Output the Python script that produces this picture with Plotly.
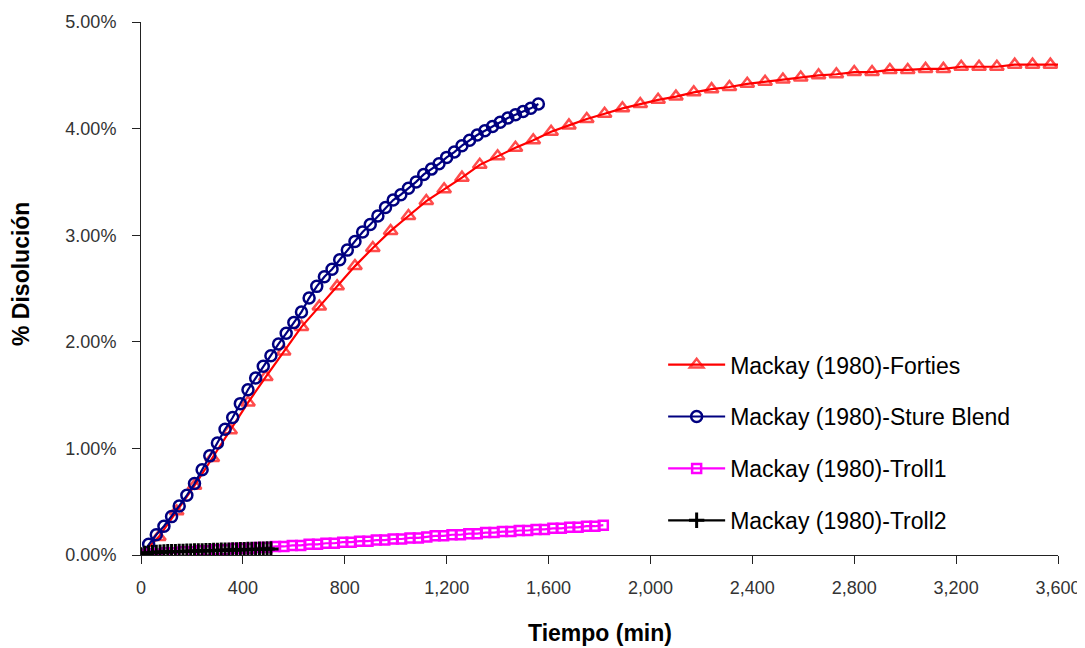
import plotly.graph_objects as go

# ---- data (minutes, % dissolution) ----
forties_t = [0, 70, 140, 210, 280, 350, 420, 490, 560, 630, 700, 770, 840, 910, 980,
             1050, 1120, 1190, 1260, 1330, 1400, 1470, 1540, 1610, 1680, 1750, 1820,
             1890, 1960, 2030, 2100, 2170, 2240, 2310, 2380, 2450, 2520, 2590, 2660,
             2730, 2800, 2870, 2940, 3010, 3080, 3150, 3220, 3290, 3360, 3430, 3500,
             3570, 3600]
forties_y = [0.00, 0.17, 0.41, 0.65, 0.91, 1.17, 1.43, 1.67, 1.91, 2.14, 2.33, 2.52,
             2.71, 2.88, 3.04, 3.18, 3.32, 3.43, 3.54, 3.66, 3.74, 3.82, 3.89, 3.97,
             4.03, 4.09, 4.14, 4.19, 4.23, 4.27, 4.30, 4.34, 4.37, 4.39, 4.42, 4.44,
             4.46, 4.48, 4.50, 4.51, 4.53, 4.53, 4.55, 4.55, 4.56, 4.56, 4.58, 4.58,
             4.58, 4.60, 4.60, 4.60, 4.60]

sture_t = [0, 30, 60, 90, 120, 150, 180, 210, 240, 270, 300, 330, 360, 390, 420, 450,
           480, 510, 540, 570, 600, 630, 660, 690, 720, 750, 780, 810, 840, 870, 900,
           930, 960, 990, 1020, 1050, 1080, 1110, 1140, 1170, 1200, 1230, 1260, 1290,
           1320, 1350, 1380, 1410, 1440, 1470, 1500, 1530, 1560]
sture_y = [0.00, 0.10, 0.19, 0.27, 0.36, 0.46, 0.56, 0.67, 0.80, 0.93, 1.05, 1.18,
           1.29, 1.42, 1.55, 1.66, 1.77, 1.87, 1.98, 2.08, 2.18, 2.28, 2.41, 2.52,
           2.61, 2.68, 2.77, 2.86, 2.94, 3.03, 3.10, 3.18, 3.26, 3.33, 3.38, 3.44,
           3.50, 3.57, 3.62, 3.67, 3.73, 3.78, 3.84, 3.89, 3.94, 3.98, 4.02, 4.06,
           4.10, 4.13, 4.16, 4.19, 4.23]

troll1_t = [0, 33, 66, 99, 132, 165, 198, 231, 264, 297, 330, 363, 396, 429, 462, 495,
            528, 561, 594, 627, 660, 693, 726, 759, 792, 825, 858, 891, 924, 957, 990,
            1023, 1056, 1089, 1122, 1155, 1188, 1221, 1254, 1287, 1320, 1353, 1386,
            1419, 1452, 1485, 1518, 1551, 1584, 1617, 1650, 1683, 1716, 1749, 1782, 1815]
troll1_y = [0.00, 0.01, 0.01, 0.02, 0.02, 0.03, 0.03, 0.04, 0.04, 0.05, 0.05, 0.06,
            0.06, 0.06, 0.07, 0.07, 0.08, 0.08, 0.09, 0.09, 0.10, 0.10, 0.11, 0.11,
            0.12, 0.12, 0.13, 0.13, 0.14, 0.14, 0.15, 0.15, 0.16, 0.16, 0.17, 0.18,
            0.18, 0.19, 0.19, 0.20, 0.20, 0.21, 0.21, 0.22, 0.22, 0.23, 0.23, 0.24,
            0.24, 0.25, 0.25, 0.26, 0.26, 0.27, 0.27, 0.28]

troll2_t = [0, 15, 30, 45, 60, 75, 90, 105, 120, 135, 150, 165, 180, 195, 210, 225, 240,
            255, 270, 285, 300, 315, 330, 345, 360, 375, 390, 405, 420, 435, 450, 465,
            480, 495, 510]
troll2_y = [0.000, 0.015, 0.020, 0.022, 0.025, 0.027, 0.028, 0.030, 0.031, 0.032,
            0.033, 0.034, 0.035, 0.036, 0.037, 0.038, 0.039, 0.040, 0.041, 0.042,
            0.043, 0.044, 0.045, 0.046, 0.047, 0.048, 0.049, 0.050, 0.051, 0.052,
            0.053, 0.054, 0.055, 0.056, 0.057]

series_names = ["Mackay (1980)-Forties", "Mackay (1980)-Sture Blend",
                "Mackay (1980)-Troll1", "Mackay (1980)-Troll2"]

x_ticks = [0, 400, 800, 1200, 1600, 2000, 2400, 2800, 3200, 3600]
x_labels = ["0", "400", "800", "1,200", "1,600", "2,000", "2,400", "2,800", "3,200", "3,600"]
y_ticks = [0, 1, 2, 3, 4, 5]
y_labels = ["0.00%", "1.00%", "2.00%", "3.00%", "4.00%", "5.00%"]

FONT = "Liberation Sans, Arial, sans-serif"

fig = go.Figure()

# Forties: last point is line-only (no marker)
f_sizes = [12] * (len(forties_t) - 1) + [0]
fig.add_trace(go.Scatter(
    x=forties_t, y=forties_y, name=series_names[0], mode="lines+markers",
    line=dict(color="#FF0000", width=2.2),
    marker=dict(symbol="triangle-up-open", size=f_sizes, color="#FF0000",
                line=dict(width=2.5, color="#FF0000")),
    legendgroup="a"))
fig.add_trace(go.Scatter(
    x=sture_t, y=sture_y, name=series_names[1], mode="lines+markers",
    line=dict(color="#000080", width=2.2),
    marker=dict(symbol="circle-open", size=11, color="#000080",
                line=dict(width=2.5, color="#000080")),
    legendgroup="b"))
fig.add_trace(go.Scatter(
    x=troll1_t, y=troll1_y, name=series_names[2], mode="lines+markers",
    line=dict(color="#FF00FF", width=2.2),
    marker=dict(symbol="square-open", size=9, color="#FF00FF",
                line=dict(width=2.5, color="#FF00FF")),
    legendgroup="c"))
fig.add_trace(go.Scatter(
    x=troll2_t, y=troll2_y, name=series_names[3], mode="lines+markers",
    line=dict(color="#000000", width=2.2),
    marker=dict(symbol="cross-thin", size=11, color="#000000",
                line=dict(width=3, color="#000000")),
    legendgroup="d"))

# page body adds an 8px offset, so the figure is sized to fit the window
fig.update_layout(
    width=1077, height=640,
    margin=dict(l=133, r=27, t=14, b=93, autoexpand=False),
    paper_bgcolor="white", plot_bgcolor="white",
    font=dict(family=FONT, color="#333333"),
    showlegend=True,
    legend=dict(x=0.5694, y=0.3975, xanchor="left", yanchor="top",
                font=dict(family=FONT, size=23, color="#000000"),
                bgcolor="rgba(0,0,0,0)", tracegroupgap=19, itemwidth=57),
    xaxis=dict(range=[0, 3600], tickmode="array", tickvals=x_ticks, ticktext=x_labels,
               automargin=False,
               showline=True, linecolor="#222222", linewidth=1,
               ticks="outside", ticklen=8, tickcolor="#222222",
               showgrid=False, zeroline=False,
               tickfont=dict(family=FONT, size=18, color="#333333"),
               ticklabelstandoff=8),
    yaxis=dict(range=[0, 5], tickmode="array", tickvals=y_ticks, ticktext=y_labels,
               automargin=False,
               showline=True, linecolor="#222222", linewidth=1,
               ticks="outside", ticklen=8, tickcolor="#222222",
               showgrid=False, zeroline=False,
               tickfont=dict(family=FONT, size=18, color="#333333"),
               ticklabelstandoff=12),
    annotations=[
        dict(text="<b>% Disolución</b>", textangle=-90,
             xref="paper", yref="paper", x=-0.131, y=0.527,
             xanchor="center", yanchor="middle", showarrow=False,
             font=dict(family=FONT, size=23, color="#000000")),
        dict(text="<b>Tiempo (min)</b>",
             xref="paper", yref="paper", x=0.5, y=-0.146,
             xanchor="center", yanchor="middle", showarrow=False,
             font=dict(family=FONT, size=23, color="#000000")),
    ],
)

fig.write_html("out.html")
